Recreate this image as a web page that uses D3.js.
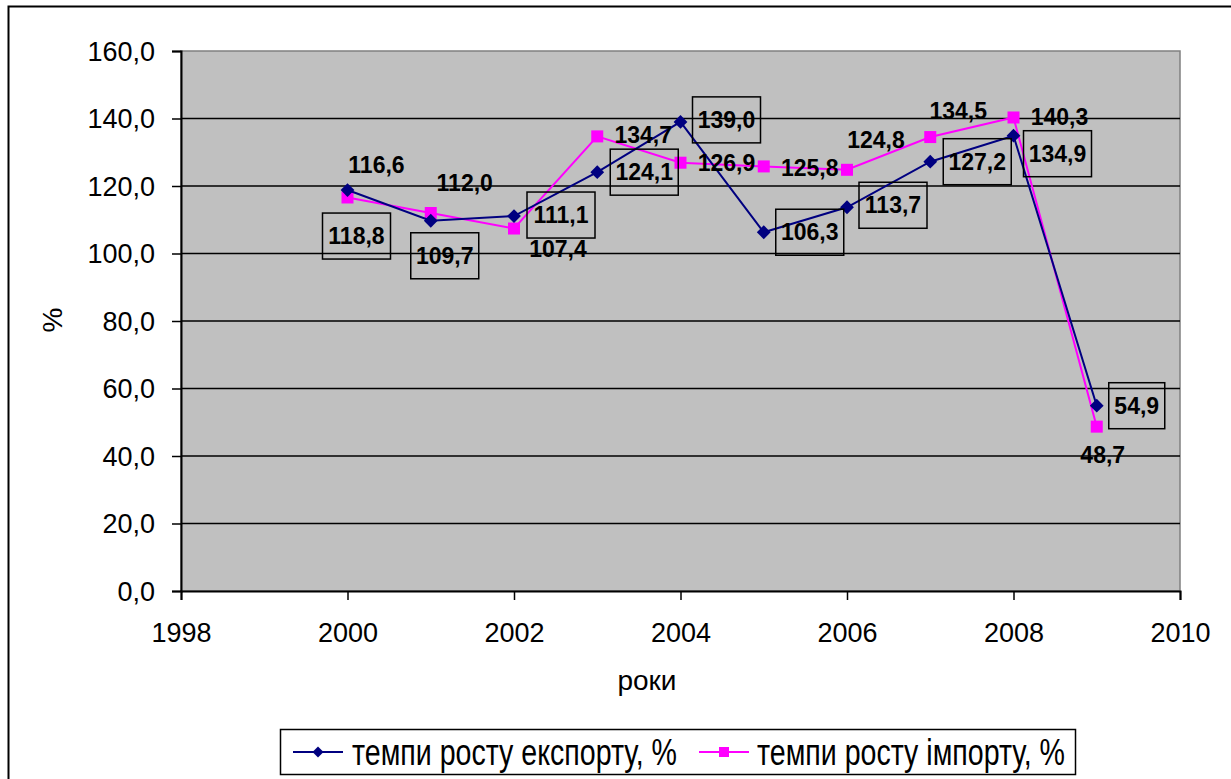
<!DOCTYPE html>
<html>
<head>
<meta charset="utf-8">
<script src="https://cdn.jsdelivr.net/npm/d3@7"></script>
<style>
  html, body { margin: 0; padding: 0; background: #fff; }
  svg { display: block; font-family: "Liberation Sans", Arial, sans-serif; }
</style>
</head>
<body>
<svg id="chart" width="1231" height="779"></svg>
<script>
// ---- data ----
const years = [2000, 2001, 2002, 2003, 2004, 2005, 2006, 2007, 2008, 2009];
const exportGrowth = [118.8, 109.7, 111.1, 124.1, 139.0, 106.3, 113.7, 127.2, 134.9, 54.9];
const importGrowth = [116.6, 112.0, 107.4, 134.7, 126.9, 125.8, 124.8, 134.5, 140.3, 48.7];
const yTicks = [0, 20, 40, 60, 80, 100, 120, 140, 160];
const xTicks = [1998, 2000, 2002, 2004, 2006, 2008, 2010];
const seriesNames = ["темпи росту експорту, %", "темпи росту імпорту, %"];
const xTitle = "роки";
const yTitle = "%";
// label placement offsets (pixels, relative to point)
const exportLabelOffsets = [[9,46],[14,35],[47,-1],[47,0],[46,-2],[46,0],[46,-2],[47,0],[44,18],[40,0]];
const importLabelOffsets = [[29,-32],[34,-30],[44,20],[46,-1],[46,0],[46,2],[29,-30],[28,-26],[46,0],[6,28]];

const fmt = v => v.toFixed(1).replace(".", ",");
const FONT = "'Liberation Sans', Arial, sans-serif";

const svg = d3.select("#chart");
const plot = { left: 181, right: 1180, top: 51, bottom: 591 };

// outer frame
svg.append("rect").attr("x", 8.5).attr("y", 6.5).attr("width", 1240).attr("height", 800)
  .attr("fill", "none").attr("stroke", "#000").attr("stroke-width", 2);

const x = d3.scaleLinear().domain([1998, 2010]).range([plot.left, plot.right]);
const y = d3.scaleLinear().domain([0, 160]).range([plot.bottom, plot.top]);

// plot background
svg.append("rect").attr("x", plot.left).attr("y", plot.top)
  .attr("width", plot.right - plot.left).attr("height", plot.bottom - plot.top)
  .attr("fill", "#c0c0c0").attr("stroke", "#808080").attr("stroke-width", 1.5);

// gridlines
svg.append("g").selectAll("line").data(yTicks.filter(t => t > 0 && t < 160)).join("line")
  .attr("x1", plot.left).attr("x2", plot.right)
  .attr("y1", d => y(d)).attr("y2", d => y(d))
  .attr("stroke", "#000").attr("stroke-width", 1.5);

// axes
const yAxis = d3.axisLeft(y).tickValues(yTicks).tickFormat(fmt).tickSize(9).tickPadding(17);
const gy = svg.append("g").attr("transform", `translate(${plot.left},0)`).call(yAxis);
gy.attr("font-size", 27).attr("font-family", FONT);
gy.select(".domain").attr("stroke", "#000").attr("stroke-width", 2);
gy.selectAll(".tick line").attr("stroke", "#000").attr("stroke-width", 1.5);
gy.selectAll(".tick text").attr("fill", "#000").attr("dy", "0.35em");

const xAxis = d3.axisBottom(x).tickValues(xTicks).tickFormat(d3.format("d")).tickSize(9).tickPadding(23);
const gx = svg.append("g").attr("transform", `translate(0,${plot.bottom})`).call(xAxis);
gx.attr("font-size", 27).attr("font-family", FONT);
gx.select(".domain").attr("stroke", "#000").attr("stroke-width", 2);
gx.selectAll(".tick line").attr("stroke", "#000").attr("stroke-width", 1.5);
gx.selectAll(".tick text").attr("fill", "#000");

// axis titles
svg.append("text").attr("x", 647).attr("y", 690).attr("text-anchor", "middle")
  .attr("font-size", 28).text(xTitle);
svg.append("text").attr("transform", "translate(62,320) rotate(-90)").attr("text-anchor", "middle")
  .attr("font-size", 28).text(yTitle);

const line = d3.line().x(d => x(d[0])).y(d => y(d[1]));
const exportPts = years.map((yr, i) => [yr, exportGrowth[i]]);
const importPts = years.map((yr, i) => [yr, importGrowth[i]]);

const navy = "#000080", magenta = "#ff00ff";

// import series
svg.append("path").datum(importPts).attr("d", line).attr("fill", "none")
  .attr("stroke", magenta).attr("stroke-width", 2);
svg.append("g").selectAll("rect").data(importPts).join("rect")
  .attr("x", d => x(d[0]) - 6).attr("y", d => y(d[1]) - 6)
  .attr("width", 12).attr("height", 12).attr("fill", magenta);

// export series
svg.append("path").datum(exportPts).attr("d", line).attr("fill", "none")
  .attr("stroke", navy).attr("stroke-width", 2);
svg.append("g").selectAll("path").data(exportPts).join("path")
  .attr("d", d3.symbol().type(d3.symbolSquare).size(95)())
  .attr("transform", d => `translate(${x(d[0])},${y(d[1])}) rotate(45)`)
  .attr("fill", navy);

// export labels (boxed)
const eg = svg.append("g");
exportPts.forEach((d, i) => {
  const cx = x(d[0]) + exportLabelOffsets[i][0];
  const cy = y(d[1]) + exportLabelOffsets[i][1];
  const w = d[1] >= 100 ? 68 : 56;
  eg.append("rect").attr("x", cx - w / 2).attr("y", cy - 23).attr("width", w).attr("height", 46)
    .attr("fill", "none").attr("stroke", "#000").attr("stroke-width", 1.5);
  eg.append("text").attr("x", cx).attr("y", cy + 8).attr("text-anchor", "middle")
    .attr("font-size", 23).attr("font-weight", "bold")
    .text(fmt(d[1]));
});

// import labels
const ig = svg.append("g");
importPts.forEach((d, i) => {
  const cx = x(d[0]) + importLabelOffsets[i][0];
  const cy = y(d[1]) + importLabelOffsets[i][1];
  ig.append("text").attr("x", cx).attr("y", cy + 8).attr("text-anchor", "middle")
    .attr("font-size", 23).attr("font-weight", "bold")
    .text(fmt(d[1]));
});

// legend
const lg = svg.append("g");
lg.append("rect").attr("x", 280.5).attr("y", 729.5).attr("width", 795).attr("height", 45)
  .attr("fill", "#fff").attr("stroke", "#000").attr("stroke-width", 1.5);
const legendItems = [
  { name: seriesNames[0], color: navy, sym: "diamond", x0: 293, tx: 352, tw: 325 },
  { name: seriesNames[1], color: magenta, sym: "square", x0: 699, tx: 757, tw: 308 }
];
legendItems.forEach(it => {
  lg.append("line").attr("x1", it.x0).attr("x2", it.x0 + 50).attr("y1", 752).attr("y2", 752)
    .attr("stroke", it.color).attr("stroke-width", 2);
  if (it.sym === "diamond") {
    lg.append("path").attr("d", d3.symbol().type(d3.symbolSquare).size(60)())
      .attr("transform", `translate(${it.x0 + 25},752) rotate(45)`).attr("fill", it.color);
  } else {
    lg.append("rect").attr("x", it.x0 + 20).attr("y", 747).attr("width", 10).attr("height", 10)
      .attr("fill", it.color);
  }
  lg.append("text").attr("transform", `translate(${it.tx},752) scale(1,1.4)`)
    .attr("x", 0).attr("y", 0).attr("dy", "0.35em")
    .attr("font-size", 27).attr("textLength", it.tw).attr("lengthAdjust", "spacingAndGlyphs")
    .text(it.name);
});
</script>
</body>
</html>
